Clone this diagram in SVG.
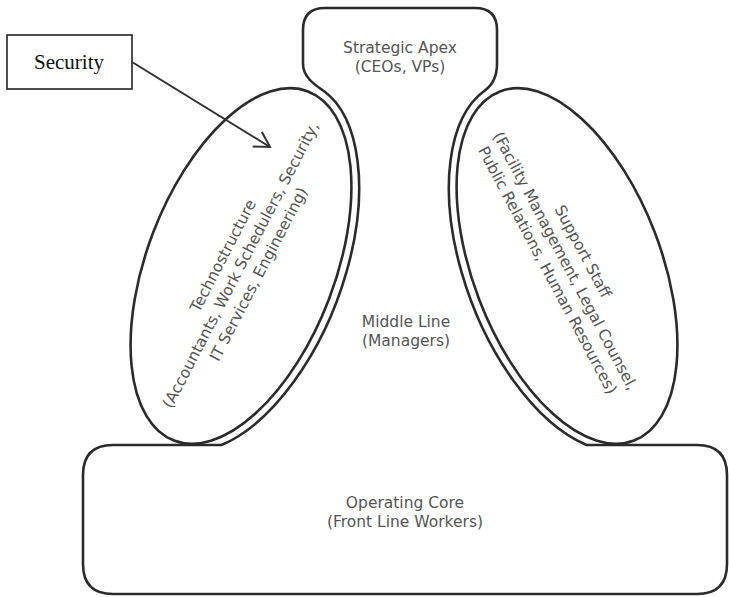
<svg xmlns="http://www.w3.org/2000/svg" width="729" height="597" viewBox="0 0 729 597">
<style>
.shape{fill:none;stroke:#2b2b2b;stroke-width:2.6}
.lbl{font-family:"DejaVu Sans",Verdana,sans-serif;font-size:15.5px;fill:#555;text-anchor:middle}
.box{fill:#fff;stroke:#222;stroke-width:1.6}
.serif{font-family:"Liberation Serif","Times New Roman",serif;font-size:21px;fill:#111;text-anchor:middle}
.conn{fill:none;stroke:#333;stroke-width:2}
</style>
<defs>
<marker id="openArrow" viewBox="-18 -11 20 22" refX="0" refY="0" markerWidth="20" markerHeight="22" markerUnits="userSpaceOnUse" orient="auto">
<path d="M-15,-8.7 L0,0 L-15,8.7" fill="none" stroke="#333" stroke-width="2"/>
</marker>
</defs>
<rect width="729" height="597" fill="#fff"/>
<g id="outline">
<path class="shape" d="M 113 445 L 221.5 445 A 102 195 21 0 0 323.5 90.8 C 317 86.1 303 78 303 64 L 303 30 Q 303 8 325 8 L 475 8 Q 497 8 497 30 L 497 64 C 497 78 491 86.1 484.5 90.8 A 102 195 -21 0 0 586.5 445 L 697 445 Q 727 445 727 475 L 727 564 Q 727 594 697 594 L 113 594 Q 83 594 83 564 L 83 475 Q 83 445 113 445 Z"/>
</g>
<g id="strategic-apex">
<text class="lbl" x="400" y="53">Strategic Apex</text>
<text class="lbl" x="400" y="72">(CEOs, VPs)</text>
</g>
<g id="middle-line">
<text class="lbl" x="406" y="327">Middle Line</text>
<text class="lbl" x="406" y="346">(Managers)</text>
</g>
<g id="operating-core">
<text class="lbl" x="405" y="508">Operating Core</text>
<text class="lbl" x="405" y="527">(Front Line Workers)</text>
</g>
<g id="technostructure">
<ellipse class="shape" cx="241" cy="266" rx="94" ry="187" transform="rotate(21 241 266)"/>
<g transform="translate(241,265) rotate(-62.5)">
<text class="lbl" x="0" y="-15">Technostructure</text>
<text class="lbl" x="0" y="5">(Accountants, Work Schedulers, Security,</text>
<text class="lbl" x="0" y="25">IT Services, Engineering)</text>
</g>
</g>
<g id="support-staff">
<ellipse class="shape" cx="567" cy="266" rx="94" ry="187" transform="rotate(-21 567 266)"/>
<g transform="translate(565,261) rotate(62)">
<text class="lbl" x="0" y="-15">Support Staff</text>
<text class="lbl" x="0" y="5">(Facility Management, Legal Counsel,</text>
<text class="lbl" x="0" y="25">Public Relations, Human Resources)</text>
</g>
</g>
<g id="security">
<rect class="box" x="7" y="35" width="125" height="54"/>
<text class="serif" x="69" y="69">Security</text>
</g>
<g id="connectors">
<path class="conn" d="M132,62 L270,147" marker-end="url(#openArrow)"/>
</g>
</svg>
